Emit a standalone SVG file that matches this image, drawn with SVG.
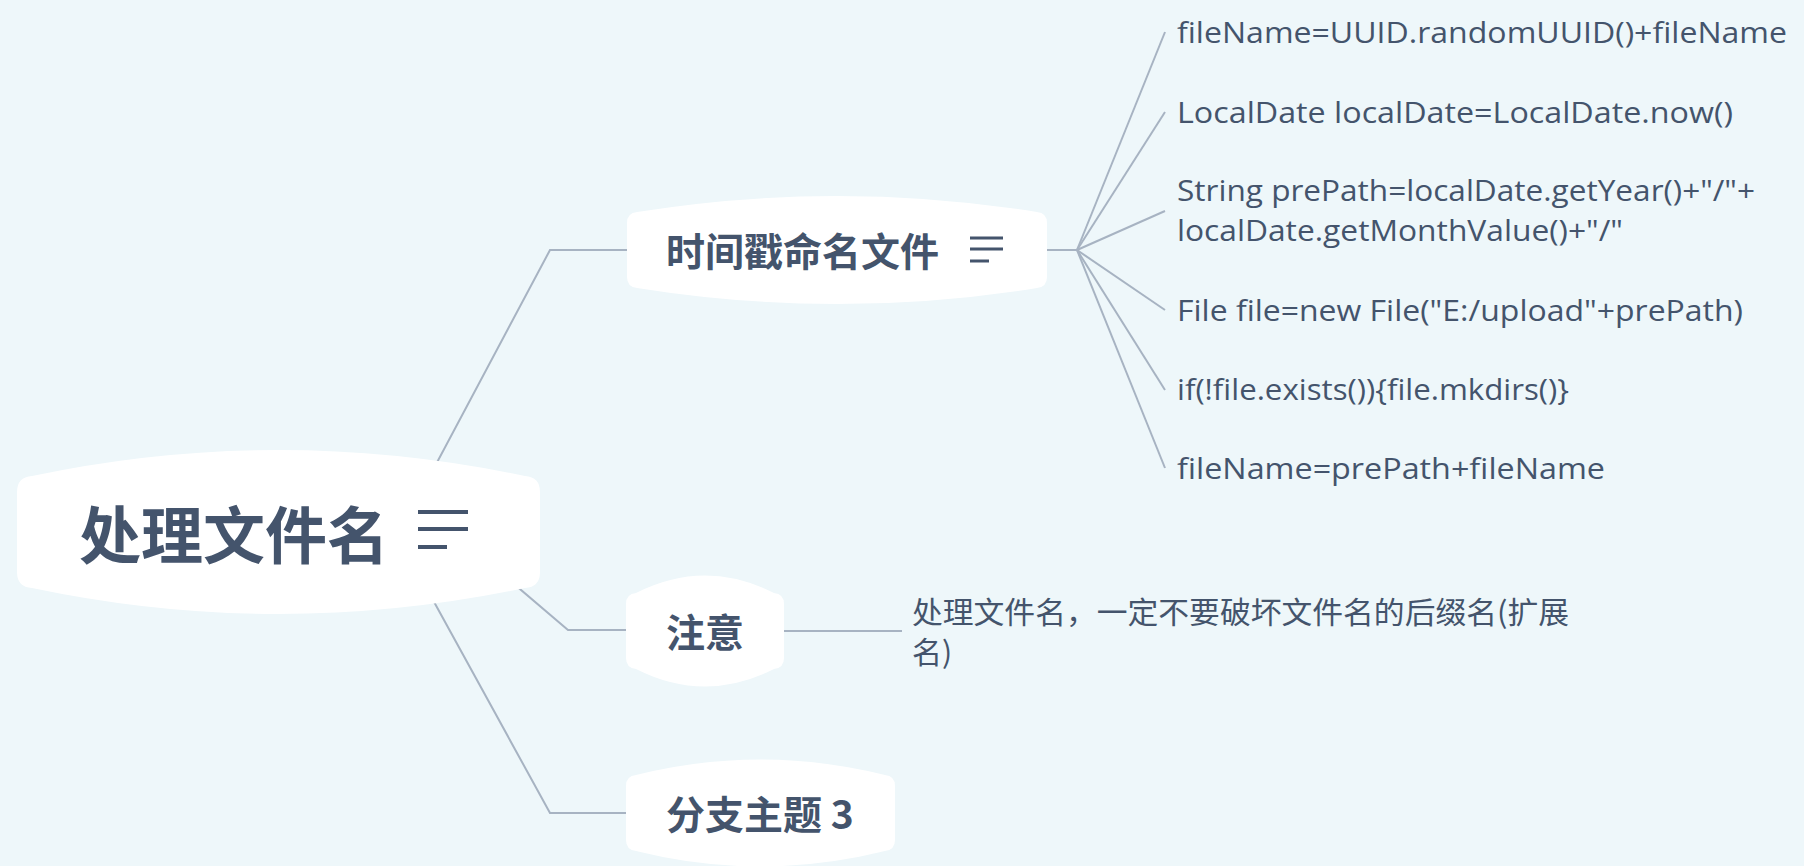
<svg xmlns="http://www.w3.org/2000/svg" width="1804" height="866" viewBox="0 0 1804 866">
  <style>
    .node{fill:#ffffff;}
    .conn{fill:none;stroke:#a7b3c2;stroke-width:2;}
    .icon{stroke:#44546c;stroke-linecap:butt;}
    .title{font-family:"Noto Sans CJK SC","Noto Sans",sans-serif;font-weight:700;fill:#44546c;}
    .sub{font-family:"Open Sans","Noto Sans CJK SC",sans-serif;font-size:29px;fill:#44546c;}
    .subcjk{font-family:"Noto Sans CJK SC","Open Sans",sans-serif;font-size:30px;fill:#44546c;}
  </style>
  <rect x="0" y="0" width="1804" height="866" fill="#eef7fa"/>

  <g id="connectors">
    <polyline class="conn" points="400,532 550,250 627,250"/>
    <polyline class="conn" points="480,555 568,630 627,630"/>
    <polyline class="conn" points="400,540 550,813 627,813"/>
    <line class="conn" x1="1047" y1="250" x2="1077" y2="250"/>
    <line class="conn" x1="1077" y1="250" x2="1165" y2="32"/>
    <line class="conn" x1="1077" y1="250" x2="1165" y2="112"/>
    <line class="conn" x1="1077" y1="250" x2="1165" y2="211"/>
    <line class="conn" x1="1077" y1="250" x2="1165" y2="310"/>
    <line class="conn" x1="1077" y1="250" x2="1165" y2="390"/>
    <line class="conn" x1="1077" y1="250" x2="1165" y2="468"/>
    <line class="conn" x1="784" y1="631" x2="902" y2="631"/>
  </g>

  <g id="root">
    <path class="node" d="M17,492 Q17,477 32,476 Q278,424 525,476 Q540,477 540,492 L540,572 Q540,587 525,588 Q278,640 32,588 Q17,587 17,572 Z"/>
    <text class="title" x="79" y="559" font-size="62">处理文件名</text>
    <g class="icon" stroke-width="4">
      <line x1="418" y1="512" x2="468" y2="512"/>
      <line x1="418" y1="529" x2="468" y2="529"/>
      <line x1="418" y1="547" x2="447" y2="547"/>
    </g>
  </g>

  <g id="topic1">
    <path class="node" d="M627,223 Q627,213 637,212 Q837,180 1037,212 Q1047,213 1047,223 L1047,277 Q1047,287 1037,288 Q837,320 637,288 Q627,287 627,277 Z"/>
    <text class="title" x="666" y="266" font-size="39">时间戳命名文件</text>
    <g class="icon" stroke-width="3">
      <line x1="970" y1="238" x2="1003" y2="238"/>
      <line x1="970" y1="249" x2="1003" y2="249"/>
      <line x1="970" y1="261" x2="989" y2="261"/>
    </g>
  </g>

  <g id="topic2">
    <path class="node" d="M626,604 Q626,594 636,593 Q705,558 774,593 Q784,594 784,604 L784,658 Q784,668 774,669 Q705,704 636,669 Q626,668 626,658 Z"/>
    <text class="title" x="666" y="647" font-size="39">注意</text>
  </g>

  <g id="topic3">
    <path class="node" d="M626,786 Q626,776 636,775 Q760,744 885,775 Q895,776 895,786 L895,840 Q895,850 885,851 Q760,882 636,851 Q626,850 626,840 Z"/>
    <text class="title" x="666" y="829" font-size="39">分支主题 3</text>
  </g>

  <g id="child1"><text class="sub" x="1177" y="43" textLength="610" lengthAdjust="spacingAndGlyphs">fileName=UUID.randomUUID()+fileName</text></g>
  <g id="child2"><text class="sub" x="1177" y="123" textLength="556" lengthAdjust="spacingAndGlyphs">LocalDate localDate=LocalDate.now()</text></g>
  <g id="child3">
    <text class="sub" x="1177" y="201" textLength="578" lengthAdjust="spacingAndGlyphs">String prePath=localDate.getYear()+"/"+</text>
    <text class="sub" x="1177" y="241" textLength="446" lengthAdjust="spacingAndGlyphs">localDate.getMonthValue()+"/"</text>
  </g>
  <g id="child4"><text class="sub" x="1177" y="321" textLength="566" lengthAdjust="spacingAndGlyphs">File file=new File("E:/upload"+prePath)</text></g>
  <g id="child5"><text class="sub" x="1177" y="400" textLength="392" lengthAdjust="spacingAndGlyphs">if(!file.exists()){file.mkdirs()}</text></g>
  <g id="child6"><text class="sub" x="1177" y="479" textLength="428" lengthAdjust="spacingAndGlyphs">fileName=prePath+fileName</text></g>

  <g id="note">
    <text class="subcjk" x="912" y="623" textLength="657" lengthAdjust="spacingAndGlyphs">处理文件名，一定不要破坏文件名的后缀名(扩展</text>
    <text class="subcjk" x="912" y="663">名)</text>
  </g>
</svg>
